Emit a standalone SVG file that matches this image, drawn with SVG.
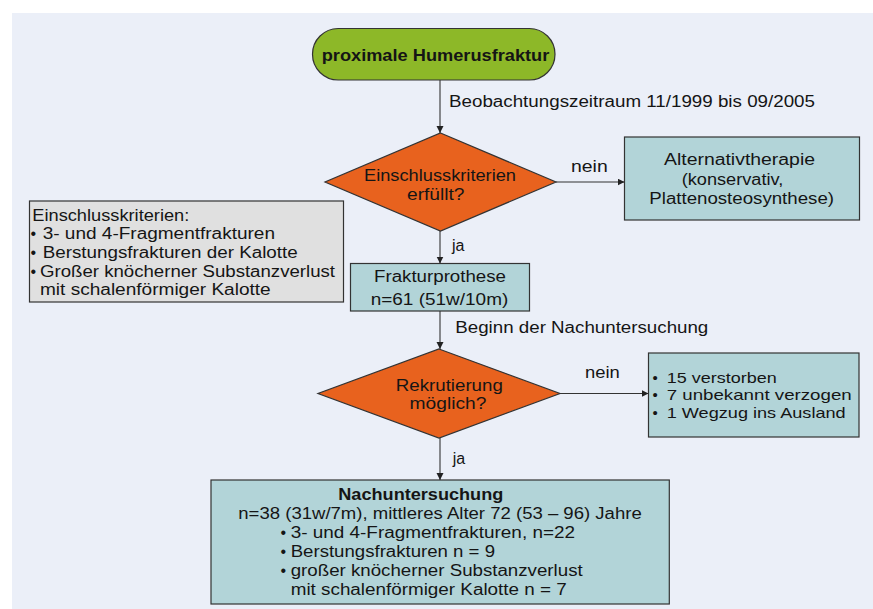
<svg xmlns="http://www.w3.org/2000/svg" width="873" height="609" viewBox="0 0 873 609">
<style>
.t{font-family:"Liberation Sans",Arial,sans-serif;font-size:16px;fill:#151515}
.s{font-size:15px}
.b{font-weight:bold}
.box{stroke:#333;stroke-width:1.2}
.teal{fill:#B2D4D8}
.con{stroke:#333;stroke-width:1.1;fill:none;marker-end:url(#arr)}
</style>
<defs>
<marker id="arr" markerUnits="userSpaceOnUse" markerWidth="8" markerHeight="8" refX="7" refY="3.5" orient="auto">
<path d="M0,0 L7,3.5 L0,7 Z" fill="#222"/>
</marker>
</defs>
<rect x="12" y="13" width="861" height="596" fill="#EBEFF8"/>

<g id="connectors">
<path class="con" d="M440,80 V133"/>
<path class="con" d="M556,182 H624.5"/>
<path class="con" d="M440,231 V263.5"/>
<path class="con" d="M440,311 V349"/>
<path class="con" d="M560,393.5 H648.5"/>
<path class="con" d="M440,438 V480"/>
<text class="t" x="449" y="107" textLength="366" lengthAdjust="spacingAndGlyphs">Beobachtungszeitraum 11/1999 bis 09/2005</text>
<text class="t" x="571" y="171.5" textLength="36.7" lengthAdjust="spacingAndGlyphs">nein</text>
<text class="t" x="452" y="251">ja</text>
<text class="t" x="455.3" y="333" textLength="253" lengthAdjust="spacingAndGlyphs">Beginn der Nachuntersuchung</text>
<text class="t" x="585" y="378.3" textLength="34.8" lengthAdjust="spacingAndGlyphs">nein</text>
<text class="t" x="452.8" y="463.5">ja</text>
</g>

<g id="start">
<rect class="box" x="312.5" y="28.5" width="242.5" height="51.5" rx="25.75" fill="#8DB828"/>
<text class="t b" x="321.7" y="61" textLength="227.6" lengthAdjust="spacingAndGlyphs">proximale Humerusfraktur</text>
</g>

<g id="decision1">
<polygon class="box" points="440.5,133 556,182 440.5,231 325,182" fill="#E8621E"/>
<text class="t" x="364" y="181" textLength="152" lengthAdjust="spacingAndGlyphs">Einschlusskriterien</text>
<text class="t" x="407" y="200" textLength="57.5" lengthAdjust="spacingAndGlyphs">erfüllt?</text>
</g>

<g id="alternative">
<rect class="box teal" x="624.5" y="137" width="235" height="83"/>
<text class="t" x="664" y="165" textLength="151" lengthAdjust="spacingAndGlyphs">Alternativtherapie</text>
<text class="t" x="681.7" y="184.5" textLength="101.6" lengthAdjust="spacingAndGlyphs">(konservativ,</text>
<text class="t" x="649.3" y="204" textLength="184.7" lengthAdjust="spacingAndGlyphs">Plattenosteosynthese)</text>
</g>

<g id="criteria">
<rect class="box" x="29.5" y="201" width="314" height="101" fill="#E0E0E0"/>
<text class="t" x="32.3" y="220.5" textLength="157" lengthAdjust="spacingAndGlyphs">Einschlusskriterien:</text>
<text class="t" y="239"><tspan x="30.5">•</tspan><tspan x="42.7" textLength="232.3" lengthAdjust="spacingAndGlyphs">3- und 4-Fragmentfrakturen</tspan></text>
<text class="t" y="257.5"><tspan x="30.5">•</tspan><tspan x="42.7" textLength="255" lengthAdjust="spacingAndGlyphs">Berstungsfrakturen der Kalotte</tspan></text>
<text class="t" y="276.5"><tspan x="30.5">•</tspan><tspan x="40" textLength="295" lengthAdjust="spacingAndGlyphs">Großer knöcherner Substanzverlust</tspan></text>
<text class="t" x="40" y="295" textLength="230.7" lengthAdjust="spacingAndGlyphs">mit schalenförmiger Kalotte</text>
</g>

<g id="prosthesis">
<rect class="box teal" x="350.5" y="263.5" width="179" height="47.5"/>
<text class="t" x="374" y="281.5" textLength="132" lengthAdjust="spacingAndGlyphs">Frakturprothese</text>
<text class="t" x="370.7" y="305" textLength="137.6" lengthAdjust="spacingAndGlyphs">n=61 (51w/10m)</text>
</g>

<g id="decision2">
<polygon class="box" points="439,349 560,393.5 439,438 318,393.5" fill="#E8621E"/>
<text class="t" x="395.8" y="390.5" textLength="107" lengthAdjust="spacingAndGlyphs">Rekrutierung</text>
<text class="t" x="409.6" y="409" textLength="76.8" lengthAdjust="spacingAndGlyphs">möglich?</text>
</g>

<g id="dropouts">
<rect class="box teal" x="648.5" y="353" width="210.5" height="84"/>
<text class="t s" y="383.3"><tspan x="652.5">•</tspan><tspan x="666.7" textLength="110" lengthAdjust="spacingAndGlyphs">15 verstorben</tspan></text>
<text class="t s" y="400.3"><tspan x="652.5">•</tspan><tspan x="666.7" textLength="185" lengthAdjust="spacingAndGlyphs">7 unbekannt verzogen</tspan></text>
<text class="t s" y="417.5"><tspan x="652.5">•</tspan><tspan x="666.7" textLength="179" lengthAdjust="spacingAndGlyphs">1 Wegzug ins Ausland</tspan></text>
</g>

<g id="followup">
<rect class="box teal" x="211" y="480" width="458.3" height="124"/>
<text class="t b" x="338.3" y="499.5" textLength="165" lengthAdjust="spacingAndGlyphs">Nachuntersuchung</text>
<text class="t" x="238.3" y="519" textLength="403.4" lengthAdjust="spacingAndGlyphs">n=38 (31w/7m), mittleres Alter 72 (53 – 96) Jahre</text>
<text class="t" y="538.3"><tspan x="280.5">•</tspan><tspan x="290.7" textLength="284.3" lengthAdjust="spacingAndGlyphs">3- und 4-Fragmentfrakturen, n=22</tspan></text>
<text class="t" y="557.3"><tspan x="280.5">•</tspan><tspan x="290.7" textLength="204.3" lengthAdjust="spacingAndGlyphs">Berstungsfrakturen n = 9</tspan></text>
<text class="t" y="576"><tspan x="280.5">•</tspan><tspan x="290.7" textLength="292" lengthAdjust="spacingAndGlyphs">großer knöcherner Substanzverlust</tspan></text>
<text class="t" x="290.7" y="594.5" textLength="276" lengthAdjust="spacingAndGlyphs">mit schalenförmiger Kalotte n = 7</text>
</g>
</svg>
